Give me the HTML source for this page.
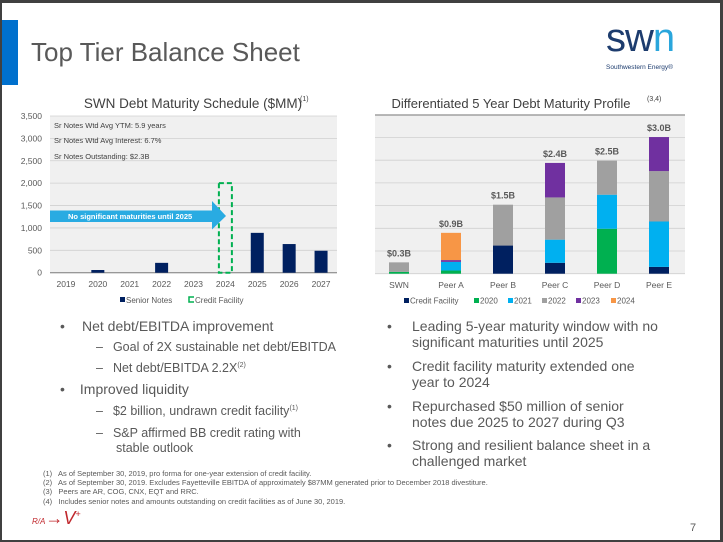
<!DOCTYPE html>
<html><head><meta charset="utf-8">
<style>
body{margin:0;width:723px;height:542px;overflow:hidden;background:#fff;font-family:"Liberation Sans",sans-serif;position:relative}
.frame{position:absolute;left:0;top:0;width:723px;height:542px;box-sizing:border-box;border-top:3px solid #404040;border-left:2px solid #404040;border-right:3px solid #404040;border-bottom:2px solid #404040}
.t{position:absolute;white-space:nowrap;color:#595959}
.b{font-size:14px;color:#595959}
.s{font-size:12.5px;color:#595959}
.fn{font-size:7.5px;color:#595959;position:absolute;white-space:nowrap}
</style></head><body>
<div class="frame"></div>
<div style="position:absolute;left:2px;top:20px;width:16px;height:65px;background:#0070cd"></div>
<div class="t" style="left:31px;top:37px;font-size:26px">Top Tier Balance Sheet</div>
<div style="position:absolute;left:606px;top:22px;width:100px;height:50px">
 <div style="position:absolute;left:0;top:-6px;font-size:40px;letter-spacing:-1px;color:#1d3c6e">sw<span style="color:#2aa6dc">n</span></div>
 <div style="position:absolute;left:0;top:42px;font-size:6.5px;color:#1d3c6e">Southwestern Energy®</div>
</div>

<svg id="c1" width="723" height="542" style="position:absolute;left:0;top:0"></svg>

<div class="t" style="left:68px;top:318px"><span class="b" style="position:absolute;left:-8px">•</span><span class="b" style="margin-left:14px">Net debt/EBITDA improvement</span></div>
<div class="t s" style="left:96px;top:340px">–<span style="margin-left:10px">Goal of 2X sustainable net debt/EBITDA</span></div>
<div class="t s" style="left:96px;top:361px">–<span style="margin-left:10px">Net debt/EBITDA 2.2X<sup style="font-size:7px">(2)</sup></span></div>
<div class="t b" style="left:60px;top:381px">•<span style="margin-left:15px">Improved liquidity</span></div>
<div class="t s" style="left:96px;top:404px">–<span style="margin-left:10px">$2 billion, undrawn credit facility<sup style="font-size:7px">(1)</sup></span></div>
<div class="t s" style="left:96px;top:426px;line-height:15px">–<span style="margin-left:10px">S&amp;P affirmed BB credit rating with</span><br><span style="margin-left:20px">stable outlook</span></div>

<div class="t b" style="left:387px;top:318px;line-height:16px">•<span style="position:absolute;left:25px">Leading 5-year maturity window with no<br>significant maturities until 2025</span></div>
<div class="t b" style="left:387px;top:358px;line-height:16px">•<span style="position:absolute;left:25px">Credit facility maturity extended one<br>year to 2024</span></div>
<div class="t b" style="left:387px;top:398px;line-height:16px">•<span style="position:absolute;left:25px">Repurchased $50 million of senior<br>notes due 2025 to 2027 during Q3</span></div>
<div class="t b" style="left:387px;top:437px;line-height:16px">•<span style="position:absolute;left:25px">Strong and resilient balance sheet in a<br>challenged market</span></div>

<div class="fn" style="left:43px;top:469px">(1)&nbsp;&nbsp; As of September 30, 2019, pro forma for one-year extension of credit facility.</div>
<div class="fn" style="left:43px;top:478px">(2)&nbsp;&nbsp; As of September 30, 2019. Excludes Fayetteville EBITDA of approximately $87MM generated prior to December 2018 divestiture.</div>
<div class="fn" style="left:43px;top:487px">(3)&nbsp;&nbsp; Peers are AR, COG, CNX, EQT and RRC.</div>
<div class="fn" style="left:43px;top:497px">(4)&nbsp;&nbsp; Includes senior notes and amounts outstanding on credit facilities as of June 30, 2019.</div>
<div class="t" style="left:32px;top:508px;color:#c0282d;font-size:18px;font-style:italic"><span style="font-size:8px">R/A</span>→V<sup style="font-size:9px">+</sup></div>
<div class="t" style="left:690px;top:522px;font-size:11px">7</div>

<script>
// Left chart data
const years=["2019","2020","2021","2022","2023","2024","2025","2026","2027"];
const seniorNotes=[0,60,0,220,0,0,890,640,490];
const creditFacility=[0,0,0,0,0,2000,0,0,0];
const yTicks1=[0,500,1000,1500,2000,2500,3000,3500];
// Right chart data
const peers=["SWN","Peer A","Peer B","Peer C","Peer D","Peer E"];
const seriesNames=["Credit Facility","2020","2021","2022","2023","2024"];
const cfVals=[0,0,0.62,0.24,0,0.15];
const y2020=[0.04,0.07,0,0,0.99,0];
const y2021=[0,0.19,0,0.51,0.75,1.0];
const y2022=[0.21,0,0.9,0.93,0.75,1.11];
const y2023=[0,0.04,0,0.76,0,0.75];
const y2024=[0,0.6,0,0,0,0];
const totalLabels=["$0.3B","$0.9B","$1.5B","$2.4B","$2.5B","$3.0B"];
const colors=["#002060","#00b050","#00b0f0","#a0a0a0","#7030a0","#f79646"];

const svg=document.getElementById('c1');
const NS="http://www.w3.org/2000/svg";
function mk(tag,attrs,parent){const e=document.createElementNS(NS,tag);for(const k in attrs)e.setAttribute(k,attrs[k]);(parent||svg).appendChild(e);return e;}
function txt(x,y,s,attrs){const e=mk('text',Object.assign({x:x,y:y,'font-family':'Liberation Sans, sans-serif'},attrs));e.textContent=s;return e;}

// ---- left chart
const L={x0:50,x1:337,y0:272.7,yTop:116,max:3500};
const ly=v=>L.y0-(v/L.max)*(L.y0-L.yTop);
const step1=(L.x1-L.x0)/years.length;
const lx=i=>L.x0+step1*(i+0.5);
let t=txt(193,108,"SWN Debt Maturity Schedule ($MM)",{'font-size':13.5,fill:'#404040','text-anchor':'middle'});


t=txt(300,101,"(1)",{'font-size':7,fill:'#404040'});
let bg=mk('rect',{x:L.x0,y:L.yTop,width:L.x1-L.x0,height:L.y0-L.yTop,fill:'#f0f0f0'});


yTicks1.forEach(v=>{
 const g=mk('line',{x1:L.x0,x2:L.x1,y1:ly(v),y2:ly(v),stroke:'#d0d0d0','stroke-width':0.8});
 
 
 const tl=txt(42,ly(v)+3,v.toLocaleString('en-US'),{'font-size':8.5,fill:'#595959','text-anchor':'end'});
 
 
});
mk('line',{x1:L.x0,x2:L.x1,y1:L.y0,y2:L.y0,stroke:'#808080','stroke-width':1});
years.forEach((y,i)=>{
 const tl=txt(lx(i),287,y,{'font-size':8.5,fill:'#595959','text-anchor':'middle'});
 
 
 if(seniorNotes[i]>0){
  const r=mk('rect',{x:lx(i)-6.5,y:ly(seniorNotes[i]),width:13,height:L.y0-ly(seniorNotes[i]),fill:'#002060'});
  
  
 }
 if(creditFacility[i]>0){
  const r=mk('rect',{x:lx(i)-6.5,y:ly(creditFacility[i]),width:13,height:L.y0-ly(creditFacility[i]),fill:'none',stroke:'#00b050','stroke-width':2,'stroke-dasharray':'5,3'});
  
  
 }
});
[["Sr Notes Wtd Avg YTM: 5.9 years",128],["Sr Notes Wtd Avg Interest: 6.7%",143],["Sr Notes Outstanding: $2.3B",159]].forEach(a=>{
 const e=txt(54,a[1],a[0],{'font-size':7.5,fill:'#404040'});
 
 
});
let ar=mk('polygon',{points:'50,210.5 212,210.5 212,201 226,216 212,229.5 212,222 50,222',fill:'#29abe2'});


t=txt(68,219,"No significant maturities until 2025",{'font-size':7.5,fill:'#fff','font-weight':'bold'});
mk('rect',{x:120,y:297,width:5,height:5,fill:'#002060'});
t=txt(126,303,"Senior Notes",{'font-size':8,fill:'#595959'});


mk('path',{d:'M194,297 h-5 v5 h5',fill:'none',stroke:'#00b050','stroke-width':1.5});
t=txt(195,303,"Credit Facility",{'font-size':8,fill:'#595959'});



// ---- right chart
const R={x0:375,x1:685,y0:273.7,yTop:115,per05:22.7};
const ry=v=>R.y0-v/0.5*R.per05;
const step2=52;
const rx=i=>399+step2*i;
t=txt(511,108,"Differentiated 5 Year Debt Maturity Profile",{'font-size':13,fill:'#404040','text-anchor':'middle'});


txt(647,101,"(3,4)",{'font-size':7,fill:'#404040'});
bg=mk('rect',{x:R.x0,y:R.yTop,width:R.x1-R.x0,height:R.y0-R.yTop,fill:'#f0f0f0'});


mk('line',{x1:R.x0,x2:R.x1,y1:R.yTop,y2:R.yTop,stroke:'#a0a0a0','stroke-width':1.5});
[0,0.5,1,1.5,2,2.5,3].forEach(v=>{
 const g=mk('line',{x1:R.x0,x2:R.x1,y1:ry(v),y2:ry(v),stroke:'#d0d0d0','stroke-width':0.8});
 
 
});
const allSeries=[cfVals,y2020,y2021,y2022,y2023,y2024];
peers.forEach((p,i)=>{
 let acc=0;
 allSeries.forEach((s,k)=>{
  if(s[i]>0){
   const r=mk('rect',{x:rx(i)-10,y:ry(acc+s[i]),width:20,height:ry(acc)-ry(acc+s[i]),fill:colors[k]});
   
   
   acc+=s[i];
  }
 });
 const tl=txt(rx(i),ry(acc)-6,totalLabels[i],{'font-size':9,fill:'#595959','font-weight':'bold','text-anchor':'middle'});
 
 
 const xl=txt(rx(i),288,p,{'font-size':8.5,fill:'#595959','text-anchor':'middle'});
 
 
});
const legX=[404,474,508,542,576,611];
seriesNames.forEach((n,k)=>{
 mk('rect',{x:legX[k],y:298,width:5,height:5,fill:colors[k]});
 const e=txt(legX[k]+6,303.5,n,{'font-size':8,fill:'#595959'});
 
 
});
</script>
</body></html>
